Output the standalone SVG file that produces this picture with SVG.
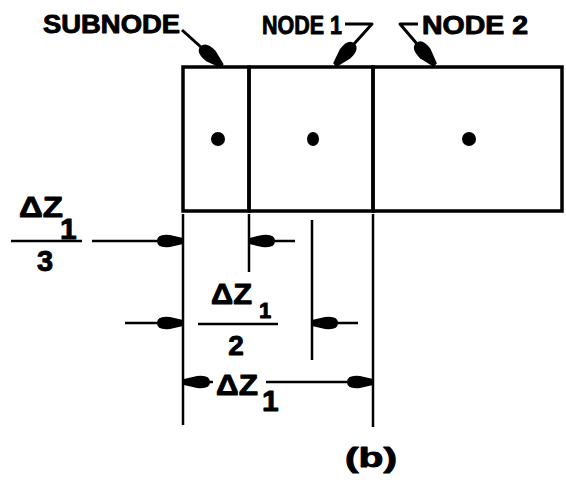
<svg xmlns="http://www.w3.org/2000/svg" width="566" height="482" viewBox="0 0 566 482">
<defs>
<style>
.t{font-family:"Liberation Sans",Arial,sans-serif;font-weight:bold;fill:#000;stroke:#000;stroke-width:0.9;stroke-linejoin:round}
.box{fill:none;stroke:#000;stroke-width:3.5}
.ln{fill:none;stroke:#000;stroke-width:2.5}
.dim{fill:none;stroke:#000;stroke-width:2.5;marker-end:url(#ah)}
.lead{fill:none;stroke:#000;stroke-width:3;stroke-linejoin:round;marker-end:url(#lh)}
</style>
<marker id="ah" markerUnits="userSpaceOnUse" viewBox="-28 -9 30 18" refX="0" refY="0" markerWidth="30" markerHeight="18" orient="auto">
<path d="M0,-3 L0,3 L-13,6 Q-26,7.5 -26,0 Q-26,-7.5 -13,-6 Z" fill="#000"/>
</marker>
<marker id="lh" markerUnits="userSpaceOnUse" viewBox="-32 -10 34 20" refX="0" refY="0" markerWidth="34" markerHeight="20" orient="auto">
<path d="M0,-2.5 L0,2.5 L-15,7 Q-29,8 -29,0 Q-29,-8 -15,-7 Z" fill="#000"/>
</marker>
</defs>
<rect width="566" height="482" fill="#fff"/>
<g id="subnode">
<rect class="box" x="183" y="67" width="66" height="144"/>
<circle cx="218" cy="139" r="7"/>
</g>
<g id="node1">
<rect class="box" x="249" y="67" width="124" height="144"/>
<ellipse cx="313" cy="139" rx="6" ry="7"/>
</g>
<g id="node2">
<rect class="box" x="373" y="67" width="189" height="144"/>
<circle cx="469" cy="139" r="7"/>
</g>
<g id="labels">
<text class="t" x="43" y="33" font-size="25" textLength="137" lengthAdjust="spacingAndGlyphs">SUBNODE</text>
<text class="t" x="262" y="34" font-size="25" textLength="80" lengthAdjust="spacingAndGlyphs">NODE 1</text>
<text class="t" x="422" y="34" font-size="25" textLength="106" lengthAdjust="spacingAndGlyphs">NODE 2</text>
<text class="t" x="19" y="217" font-size="30" textLength="44" lengthAdjust="spacingAndGlyphs">ΔZ</text>
<text class="t" x="60" y="239" font-size="30">1</text>
<text class="t" x="45" y="271" font-size="29" text-anchor="middle">3</text>
<text class="t" x="211" y="304" font-size="29" textLength="41" lengthAdjust="spacingAndGlyphs">ΔZ</text>
<text class="t" x="259" y="318" font-size="22">1</text>
<text class="t" x="236" y="355" font-size="28" text-anchor="middle">2</text>
<text class="t" x="216" y="395" font-size="29" textLength="42" lengthAdjust="spacingAndGlyphs">ΔZ</text>
<text class="t" x="262" y="411" font-size="30">1</text>
<text class="t" x="345" y="467" font-size="27" textLength="52" lengthAdjust="spacingAndGlyphs">(b)</text>
</g>
<g id="connectors">
<path class="lead" d="M182,30 L222,66"/>
<path class="lead" d="M345,24 L372,24 L335,65"/>
<path class="lead" d="M418,24 L400,24 L435,65"/>
<line class="ln" x1="11" y1="241" x2="82" y2="241"/>
<line class="ln" x1="198" y1="324" x2="278" y2="324"/>
<line class="ln" x1="183" y1="214" x2="183" y2="425"/>
<line class="ln" x1="249" y1="214" x2="249" y2="272"/>
<line class="ln" x1="312" y1="220" x2="312" y2="360"/>
<line class="ln" x1="373" y1="214" x2="373" y2="427"/>
<path class="dim" d="M92,241 H183"/>
<path class="dim" d="M295,241 H249"/>
<path class="dim" d="M125,323 H183"/>
<path class="dim" d="M358,323 H312"/>
<path class="dim" d="M213,382 H184"/>
<path class="dim" d="M266,382 H373"/>
</g>
</svg>
